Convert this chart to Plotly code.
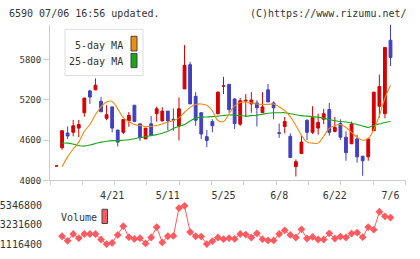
import plotly.graph_objects as go

# ---------------- data ----------------
idx = list(range(61))
date_labels = ["4/21", "5/11", "5/25", "6/8", "6/22", "7/6"]
date_label_idx = [10, 20, 30, 40, 50, 60]

open_ = [4215, 4487, 4707, 4717, 4780, 5010, 5336, 5351, 5180, 4926,
         5097, 4751, 4717, 4888, 5122, 4844, 4619, 4844, 4995, 4888,
         5034, 4912, 4810, 5365, 5727, 5254, 5010, 4653, 4878, 4995,
         5409, 5434, 5214, 4839, 5185, 5141, 5156, 5010, 5351, 5156,
         4712, 4805, 4658, 4205, 4400, 4897, 4717, 4780, 4912, 5058,
         4731, 4849, 4644, 4546, 4619, 4361, 4351, 4741, 5107, 4995,
         6092]
high = [4215, 4741, 4805, 4903, 4903, 5229, 5351, 5522, 5244, 5122,
        5097, 4751, 4907, 5020, 5122, 4844, 4780, 4961, 5102, 5092,
        5034, 5073, 5239, 6019, 5766, 5317, 5010, 4751, 4912, 5327,
        5546, 5434, 5229, 5229, 5288, 5317, 5195, 5317, 5438, 5180,
        4849, 4946, 4702, 4312, 4668, 4912, 5107, 4995, 5068, 5156,
        4946, 4912, 4731, 4878, 4683, 4361, 4619, 5317, 5580, 5985,
        6326]
low = [4215, 4458, 4619, 4658, 4644, 4951, 5141, 5351, 5024, 4897,
       4717, 4507, 4692, 4800, 4878, 4590, 4619, 4668, 4878, 4880,
       4751, 4741, 4595, 5365, 5141, 4815, 4619, 4497, 4717, 4985,
       5288, 5010, 4766, 4815, 4946, 5010, 4805, 5010, 5170, 4912,
       4634, 4702, 4341, 4059, 4400, 4604, 4692, 4683, 4839, 4668,
       4717, 4604, 4293, 4546, 4263, 4068, 4293, 4741, 4936, 4926,
       5707]
close = [4215, 4741, 4663, 4815, 4834, 5229, 5244, 5420, 5024, 4980,
         4780, 4571, 4907, 4971, 4878, 4639, 4780, 4668, 5068, 5034,
         4888, 4902, 5068, 5717, 5141, 4897, 4692, 4595, 4815, 5317,
         5409, 5058, 4849, 5190, 5195, 5200, 5083, 5097, 5170, 5083,
         4702, 4878, 4341, 4278, 4571, 4717, 4936, 4863, 4995, 4717,
         4790, 4644, 4414, 4839, 4351, 4293, 4619, 5317, 5400, 5985,
         5834]

ma5 = [None, 4205, 4351, 4468, 4571, 4732, 4834, 4980, 5098, 5171,
       5178, 5068, 4937, 4878, 4834, 4820, 4805, 4805, 4820, 4841,
       4871, 4893, 4929, 5017, 5090, 5134, 5141, 5120, 5039, 4893,
       4878, 4995, 5112, 5163, 5171, 5156, 5141, 5134, 5134, 5141,
       5098, 5039, 4951, 4820, 4673, 4571, 4556, 4556, 4659, 4776,
       4820, 4834, 4790, 4717, 4644, 4600, 4629, 4761, 4966, 5229,
       5420]
ma25 = [None, 4556, 4556, 4541, 4520, 4512, 4527, 4549, 4571, 4585,
        4593, 4593, 4600, 4607, 4622, 4637, 4651, 4669, 4683, 4702,
        4732, 4776, 4805, 4834, 4885, 4929, 4944, 4947, 4951, 4959,
        4969, 4976, 4976, 4966, 4959, 4966, 4973, 4988, 5002, 5010,
        5010, 5010, 4995, 4980, 4966, 4959, 4951, 4944, 4929, 4907,
        4893, 4878, 4871, 4856, 4834, 4812, 4790, 4820, 4841, 4863,
        4878]

volume = [None, 1994000, 1497000, 2237000, 1783000, 2237000, 2237000, 2237000, 1645000, 1148000,
          1286000, 2132000, 3084000, 1888000, 1709000, 1783000, 1222000, 1857000, 2978000, 1328000,
          1994000, 2026000, 5029000, 5273000, 2449000, 1994000, 1963000, 1148000, 1465000, 1857000,
          1677000, 1783000, 1709000, 2237000, 2174000, 1857000, 2311000, 1677000, 1539000, 1539000,
          2237000, 2629000, 2132000, 1857000, 2735000, 1751000, 1920000, 1645000, 1645000, 2311000,
          1751000, 1963000, 1857000, 2280000, 2386000, 1888000, 2978000, 2703000, 4638000, 4141000,
          4004000]

price_ticks = [4000, 4600, 5200, 5800]
volume_ticks = [1116400, 3231600, 5346800]

header_left = "6590 07/06 16:56 updated."
header_right = "(C)https://www.rizumu.net/"

# ---------------- styling / geometry ----------------
W, H = 420, 253          # drawing height (design coordinates are in 420x259 px space)
RED = "#d60000"
BLUE = "#4040c0"
ORANGE = "#f08c10"
GREEN = "#18a818"
VOLC = "#ff5a60"
AXC = "#cccccc"
TXT = "#333333"
MONO = "DejaVu Sans Mono"


def fx(p):
    return p / W


def fy(p):
    return 1 - p / H


X0, X1 = 50, 405.5
C0, DX = 56.5, 5.5667


def px2i(p):
    return (p - C0) / DX


xr = [px2i(X0), px2i(X1)]
tick_px = [X0 + k * (X1 - X0) / 11 for k in range(12)]
tick_i = [px2i(p) for p in tick_px]

MAIN_TOP, MAIN_BOT = 25, 184
per_px = 600 / 41
yr = [4000, 4000 + (MAIN_BOT - MAIN_TOP) * per_px]

V_TOP, V_BOT = 204, 253
vk = (volume_ticks[2] - volume_ticks[0]) / 40.0
vr = [volume_ticks[0] - (V_BOT - 249.3) * vk, volume_ticks[2] + (209.3 - V_TOP) * vk]

fig = go.Figure()
fig.add_trace(go.Candlestick(
    x=idx, open=open_, high=high, low=low, close=close,
    increasing=dict(line=dict(color=RED, width=1), fillcolor=RED),
    decreasing=dict(line=dict(color=BLUE, width=1), fillcolor=BLUE),
    whiskerwidth=0, xaxis="x", yaxis="y", showlegend=False, hoverinfo="skip"))
fig.add_trace(go.Scatter(x=idx, y=ma25, mode="lines", line=dict(color=GREEN, width=1.1, shape="spline"),
                         xaxis="x", yaxis="y", showlegend=False, hoverinfo="skip"))
fig.add_trace(go.Scatter(x=idx, y=ma5, mode="lines", line=dict(color=ORANGE, width=1.1, shape="spline"),
                         xaxis="x", yaxis="y", showlegend=False, hoverinfo="skip"))
fig.add_trace(go.Scatter(x=idx, y=volume, mode="lines+markers",
                         line=dict(color=VOLC, width=1),
                         marker=dict(symbol="diamond", size=6, color=VOLC),
                         xaxis="x2", yaxis="y2", showlegend=False, hoverinfo="skip"))
# invisible trace to host the date-label axis
fig.add_trace(go.Scatter(x=[xr[0]], y=[yr[0]], mode="markers", marker=dict(opacity=0),
                         xaxis="x3", yaxis="y", showlegend=False, hoverinfo="skip"))

dom_x = [fx(X0), fx(X1)]
fig.update_layout(
    width=W, height=H, margin=dict(l=0, r=0, t=0, b=0),
    paper_bgcolor="white", plot_bgcolor="white",
    boxgap=0.28,
    xaxis=dict(domain=dom_x, range=xr, anchor="y", showgrid=False, zeroline=False,
               showline=True, linecolor=AXC, linewidth=1,
               tickmode="array", tickvals=tick_i, ticks="outside", ticklen=4,
               tickcolor=AXC, tickwidth=1, showticklabels=False,
               rangeslider=dict(visible=False), fixedrange=True),
    xaxis3=dict(domain=dom_x, range=xr, anchor="y", overlaying="x", side="bottom",
                showgrid=False, zeroline=False, showline=False,
                tickmode="array", tickvals=date_label_idx, ticktext=date_labels,
                ticks="outside", ticklen=6, tickcolor="rgba(0,0,0,0)",
                tickfont=dict(family=MONO, size=10, color=TXT)),
    yaxis=dict(domain=[fy(MAIN_BOT), fy(MAIN_TOP)], range=yr, anchor="x",
               showgrid=False, zeroline=False, showline=True, linecolor=AXC, linewidth=1,
               tickmode="array", tickvals=price_ticks, ticks="outside", ticklen=6,
               tickcolor=AXC, tickwidth=1,
               tickfont=dict(family=MONO, size=9, color=TXT)),
    xaxis2=dict(domain=dom_x, range=xr, anchor="y2", visible=False),
    yaxis2=dict(domain=[fy(V_BOT), fy(V_TOP)], range=vr, anchor="x2",
                showgrid=False, zeroline=False, showline=False,
                tickmode="array", tickvals=volume_ticks,
                ticktext=[str(v) for v in volume_ticks],
                ticks="outside", ticklen=5, tickcolor="rgba(0,0,0,0)",
                tickfont=dict(family=MONO, size=10, color=TXT)),
)

shapes = []
shapes.append(dict(type="rect", xref="paper", yref="paper", x0=fx(65), x1=fx(143), y0=fy(77), y1=fy(30),
                   line=dict(color="#dddddd", width=1), fillcolor="white", layer="below"))
shapes.append(dict(type="rect", xref="paper", yref="paper", x0=fx(131), x1=fx(137), y0=fy(52), y1=fy(37),
                   line=dict(color="#444444", width=1), fillcolor=ORANGE))
shapes.append(dict(type="rect", xref="paper", yref="paper", x0=fx(131), x1=fx(137), y0=fy(69), y1=fy(54.5),
                   line=dict(color="#444444", width=1), fillcolor=GREEN))
shapes.append(dict(type="rect", xref="paper", yref="paper", x0=fx(102), x1=fx(107.5), y0=fy(228), y1=fy(213.5),
                   line=dict(color="#444444", width=1), fillcolor=VOLC))
fig.update_layout(shapes=shapes)

ann = []
ann.append(dict(text=header_left, x=fx(7), y=fy(13.5), xref="paper", yref="paper",
                xanchor="left", yanchor="middle", showarrow=False,
                font=dict(family=MONO, size=10, color=TXT)))
ann.append(dict(text=header_right, x=fx(409), y=fy(13.5), xref="paper", yref="paper",
                xanchor="right", yanchor="middle", showarrow=False,
                font=dict(family=MONO, size=10, color=TXT)))
ann.append(dict(text="5-day MA", x=fx(125), y=fy(46), xref="paper", yref="paper",
                xanchor="right", yanchor="middle", showarrow=False,
                font=dict(family=MONO, size=10, color=TXT)))
ann.append(dict(text="25-day MA", x=fx(125), y=fy(63), xref="paper", yref="paper",
                xanchor="right", yanchor="middle", showarrow=False,
                font=dict(family=MONO, size=10, color=TXT)))
ann.append(dict(text="Volume", x=fx(59), y=fy(222), xref="paper", yref="paper",
                xanchor="left", yanchor="middle", showarrow=False,
                font=dict(family=MONO, size=10, color=TXT)))
fig.update_layout(annotations=ann)

fig.write_html("out.html")
